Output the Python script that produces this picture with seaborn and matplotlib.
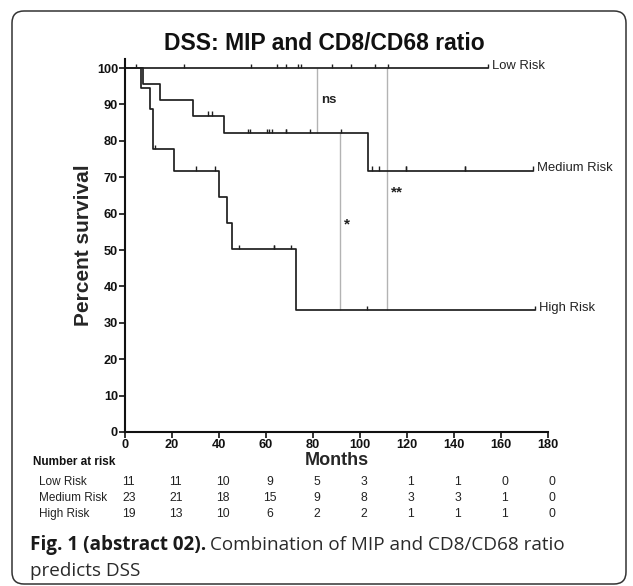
import numpy as np
import pandas as pd
import matplotlib
matplotlib.use("Agg")
import matplotlib.pyplot as plt
import seaborn as sns
from matplotlib.path import Path
from matplotlib.patches import FancyBboxPatch
from matplotlib.transforms import blended_transform_factory, IdentityTransform

# ---------------- data ----------------
groups = ["Low Risk", "Medium Risk", "High Risk"]

low_events = []
low_censored = [25.2, 53.6, 64.5, 68.5, 73.6, 74.8, 88.0, 96.0, 106.4, 112.0, 154.6]

med_events = [7.8, 15.0, 29.1, 42.3, 103.3]
med_censored = [35.2, 37.0, 52.5, 53.3, 60.6, 61.4, 62.4, 68.5, 68.5, 78.9,
                91.9, 105.2, 108.2, 119.4, 119.4, 144.7, 144.7, 173.8]

high_events = [6.8, 10.6, 11.8, 11.8, 21.0, 40.1, 43.5, 45.4, 72.8]
high_censored = [4.7, 12.8, 30.2, 38.3, 48.5, 63.5, 63.5, 70.6, 103.1, 174.5]

risk_times = [0, 20, 40, 60, 80, 100, 120, 140, 160, 180]
low_at_risk = [11, 11, 10, 9, 5, 3, 1, 1, 0, 0]
med_at_risk = [23, 21, 18, 15, 9, 8, 3, 3, 1, 0]
high_at_risk = [19, 13, 10, 6, 2, 2, 1, 1, 1, 0]

# comparison markers: (month, upper group, lower group, label)
comp_months = [81.6, 91.5, 111.6]
comp_pairs = [("Low Risk", "Medium Risk"), ("Medium Risk", "High Risk"), ("Low Risk", "High Risk")]
comp_labels = ["ns", "*", "**"]
comp_label_pos = [(83.5, 91.2), (93.3, 57.0), (113.0, 65.8)]

x_ticks = [0, 20, 40, 60, 80, 100, 120, 140, 160, 180]
y_ticks = [0, 10, 20, 30, 40, 50, 60, 70, 80, 90, 100]


def km(events, censored):
    all_t = np.array(events + censored, dtype=float)
    s = 100.0
    xs, ys = [0.0], [100.0]
    for t in sorted(set(events)):
        n = np.sum(all_t >= t)
        d = events.count(t)
        s *= (n - d) / n
        xs.append(t)
        ys.append(s)
    xs.append(float(all_t.max()))
    ys.append(s)
    return np.array(xs), np.array(ys)


def surv_at(xs, ys, t):
    idx = np.searchsorted(xs[:-1], t, side="right") - 1
    return ys[max(idx, 0)]


data = {
    "Low Risk": (low_events, low_censored),
    "Medium Risk": (med_events, med_censored),
    "High Risk": (high_events, high_censored),
}
at_risk = {"Low Risk": low_at_risk, "Medium Risk": med_at_risk, "High Risk": high_at_risk}

# ---------------- figure ----------------
sns.set_style("ticks")
plt.rcParams["font.family"] = ["Liberation Sans", "DejaVu Sans"]

W, H = 633, 586
fig = plt.figure(figsize=(W / 100, H / 100), dpi=100)
ax = fig.add_axes([125 / W, 1 - 432 / H, 423 / W, (432 - 59) / H])

curve_color = "#1f1f1f"
tick_marker = Path([(0, 0), (0, 1)], [Path.MOVETO, Path.LINETO])

curves = {}
for g in groups:
    ev, ce = data[g]
    xs, ys = km(ev, ce)
    curves[g] = (xs, ys)
    df = pd.DataFrame({"Months": xs, "Survival": ys})
    sns.lineplot(data=df, x="Months", y="Survival", drawstyle="steps-post",
                 estimator=None, sort=False, color=curve_color, lw=1.25, ax=ax)
    cdf = pd.DataFrame({"Months": ce, "Survival": [surv_at(xs, ys, t) for t in ce]})
    sns.scatterplot(data=cdf, x="Months", y="Survival", marker=tick_marker, s=40,
                    color=curve_color, edgecolor=curve_color, facecolor="none",
                    linewidth=1.0, ax=ax, zorder=3)

# end labels
for g in groups:
    xs, ys = curves[g]
    ax.text(xs[-1] + 1.5, ys[-1] + 0.6, g, ha="left", va="center", fontsize=9.4, color="#222222")

# comparison lines
for m, (g1, g2), lab, (lx, ly) in zip(comp_months, comp_pairs, comp_labels, comp_label_pos):
    y1 = surv_at(*curves[g1], m)
    y2 = surv_at(*curves[g2], m)
    ax.vlines(m, y2, y1, color="#b3b3b3", lw=1.0, zorder=1)
    fs = 9.5 if lab == "ns" else 11
    ax.text(lx, ly, lab, ha="left", va="center", fontsize=fs, fontweight="bold", color="#222222")

ax.set_xlim(0, 180)
ax.set_ylim(0, 102.5)
ax.set_xticks(x_ticks)
ax.set_yticks(y_ticks)
ax.set_xticklabels([str(t) for t in x_ticks], fontweight="bold", fontsize=9.2)
ax.set_yticklabels([str(t) for t in y_ticks], fontweight="bold", fontsize=9.2)
ax.tick_params(axis="both", direction="out", length=4, width=1.2, colors="#111111", pad=1.0)
sns.despine(ax=ax)
for sp in ("left", "bottom"):
    ax.spines[sp].set_linewidth(1.5)
    ax.spines[sp].set_color("#111111")

ax.set_xlabel("Months", fontsize=13, fontweight="bold", labelpad=1)
ax.set_ylabel("Percent survival", fontsize=15, fontweight="bold", labelpad=3)

fig.text(324 / W, 1 - 44 / H, "DSS: MIP and CD8/CD68 ratio", ha="center", va="center",
         fontsize=16.5, fontweight="bold", color="#111111")

# number at risk table
trans = blended_transform_factory(ax.transData, fig.transFigure)
row_y = [482, 498, 514]
fig.text(33 / W, 1 - 462 / H, "Number at risk", ha="left", va="center", fontsize=8.5,
         fontweight="bold", color="#111111")
for g, yy in zip(groups, row_y):
    fig.text(39 / W, 1 - yy / H, g, ha="left", va="center", fontsize=8.5, color="#222222")
    for t, n in zip(risk_times, at_risk[g]):
        ax.text(t + 1.6, 1 - yy / H, str(n), transform=trans, ha="center", va="center",
                fontsize=8.7, color="#222222", clip_on=False)

# caption
cap_font = ["Open Sans", "DejaVu Sans"]
fig.canvas.draw()
cap_y = 1 - 545 / H
t1 = fig.text(30 / W, cap_y, "Fig. 1 (abstract 02).", ha="left", va="center", fontsize=13.6,
              fontweight="bold", family=cap_font, color="#1a1a1a")
r = fig.canvas.get_renderer()
bb = t1.get_window_extent(renderer=r)
fig.text((bb.x1 + 4) / W, cap_y, "Combination of MIP and CD8/CD68 ratio", ha="left", va="center",
         fontsize=13.6, family=cap_font, color="#2a2a2a")
fig.text(30 / W, 1 - 571 / H, "predicts DSS", ha="left", va="center", fontsize=13.6,
         family=cap_font, color="#2a2a2a")

# rounded border
border = FancyBboxPatch((12, 2), 614, 573, boxstyle="round,pad=0,rounding_size=12",
                        transform=IdentityTransform(), fill=False, edgecolor="#333333", lw=1.1)
fig.patches.append(border)

fig.savefig("out.png", dpi=100)
